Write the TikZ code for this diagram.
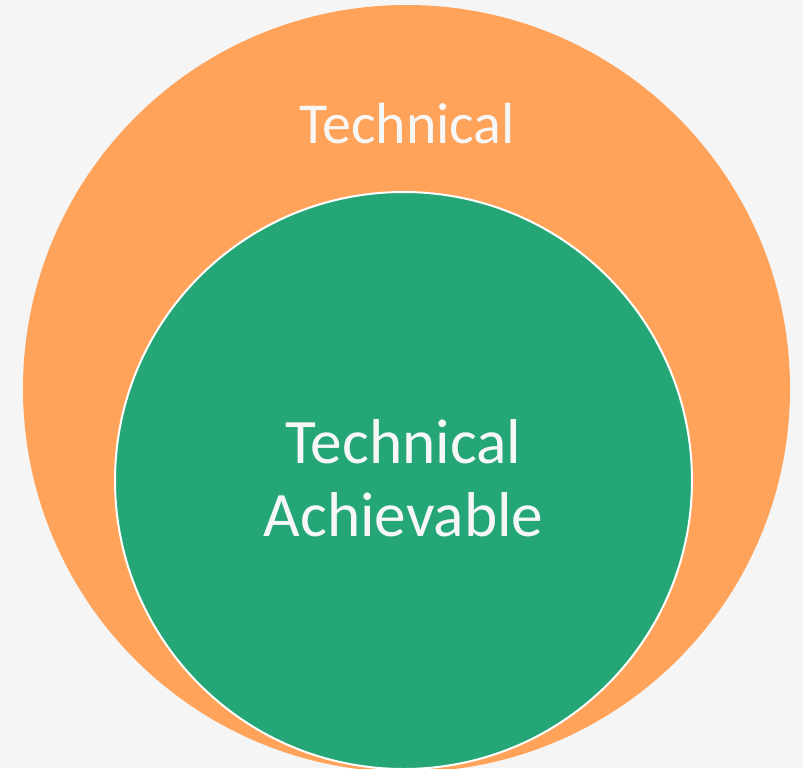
\documentclass[tikz,border=0pt]{standalone}
\usepackage{fontspec}
\setmainfont{Carlito}
\usetikzlibrary{positioning}
\definecolor{bggray}{HTML}{F5F5F5}
\definecolor{techorange}{HTML}{FFA35B}
\definecolor{achgreen}{HTML}{25A677}
\definecolor{labelwhite}{HTML}{F7F7F7}
\tikzset{
  techdisc/.style={circle, fill=techorange, inner sep=0pt, minimum size=575.25pt},
  achdisc/.style={circle, fill=achgreen, draw=white, line width=1.5pt, inner sep=0pt, minimum size=432.75pt},
  achlabel/.style={align=center, text=labelwhite, inner sep=0pt, font=\fontsize{47.5}{55}\selectfont},
  techlabel/.style={anchor=base, text=labelwhite, inner sep=0pt, font=\fontsize{43.5}{50}\selectfont}
}
\begin{document}
\begin{tikzpicture}[x=0.75pt, y=-0.75pt]
\useasboundingbox[fill=bggray] (0,0) rectangle (803,768);
\clip (0,0) rectangle (803,768);
\node[techdisc] (tech) at (406.5,388.5) {};
\node[achdisc] (ach) at (403.5,480.5) {};
\node[achlabel] (achtxt) at (403.5,478) {Technical\\Achievable};
\node[techlabel] (techtxt) at (407,143) {Technical};
\end{tikzpicture}
\end{document}
